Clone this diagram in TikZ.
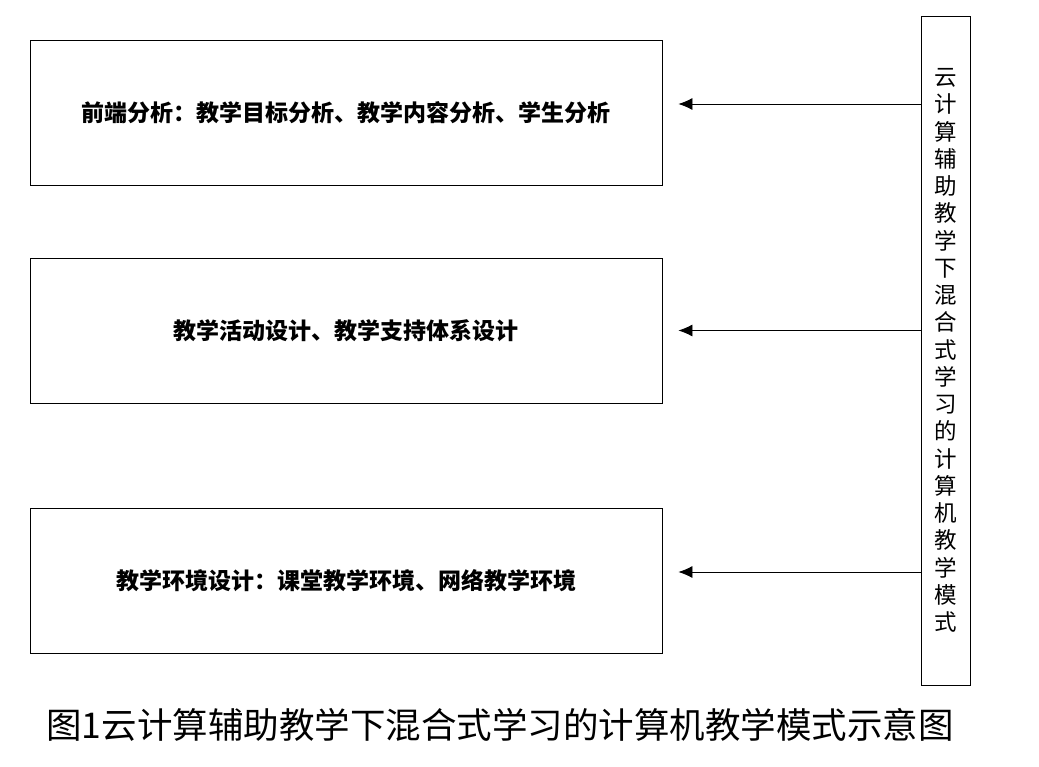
\documentclass[tikz,border=0pt]{standalone}
\usepackage{fontspec}
\newfontfamily\cjk{Noto Sans CJK SC}
\usetikzlibrary{arrows.meta}

\begin{document}
\begin{tikzpicture}[x=1pt, y=1pt,
  stage/.style={draw, line width=0.8pt, minimum width=632pt, minimum height=145pt,
    inner sep=0pt, font=\cjk\bfseries\fontsize{23}{23}\selectfont},
  model/.style={draw, line width=0.8pt, minimum width=49pt, minimum height=669pt,
    inner sep=0pt, align=center, font=\cjk\fontsize{22.5}{27.25}\selectfont},
  feed/.style={line width=0.8pt, -{Latex[length=14pt,width=12pt]}}]
  \useasboundingbox (0,0) rectangle (1039,-766);
  \node[stage] (front) at (346,-112.5) {前端分析：教学目标分析、教学内容分析、学生分析};
  \node[stage] (activity) at (346,-330.5) {教学活动设计、教学支持体系设计};
  \node[stage] (env) at (346,-580.5) {教学环境设计：课堂教学环境、网络教学环境};
  \node[model] (mode) at (946,-350.5)
    {云\\计\\算\\辅\\助\\教\\学\\下\\混\\合\\式\\学\\习\\的\\计\\算\\机\\教\\学\\模\\式};
  \node[font=\cjk\fontsize{35.5}{35.5}\selectfont] (caption) at (500,-725)
    {图1云计算辅助教学下混合式学习的计算机教学模式示意图};
  \draw[feed] (mode.west |- 0,-104) -- ([xshift=16pt,yshift=8.5pt]front.east);
  \draw[feed] (mode.west |- activity.east) -- ([xshift=16pt]activity.east);
  \draw[feed] (mode.west |- 0,-572) -- ([xshift=16pt,yshift=8.5pt]env.east);
\end{tikzpicture}
\end{document}
